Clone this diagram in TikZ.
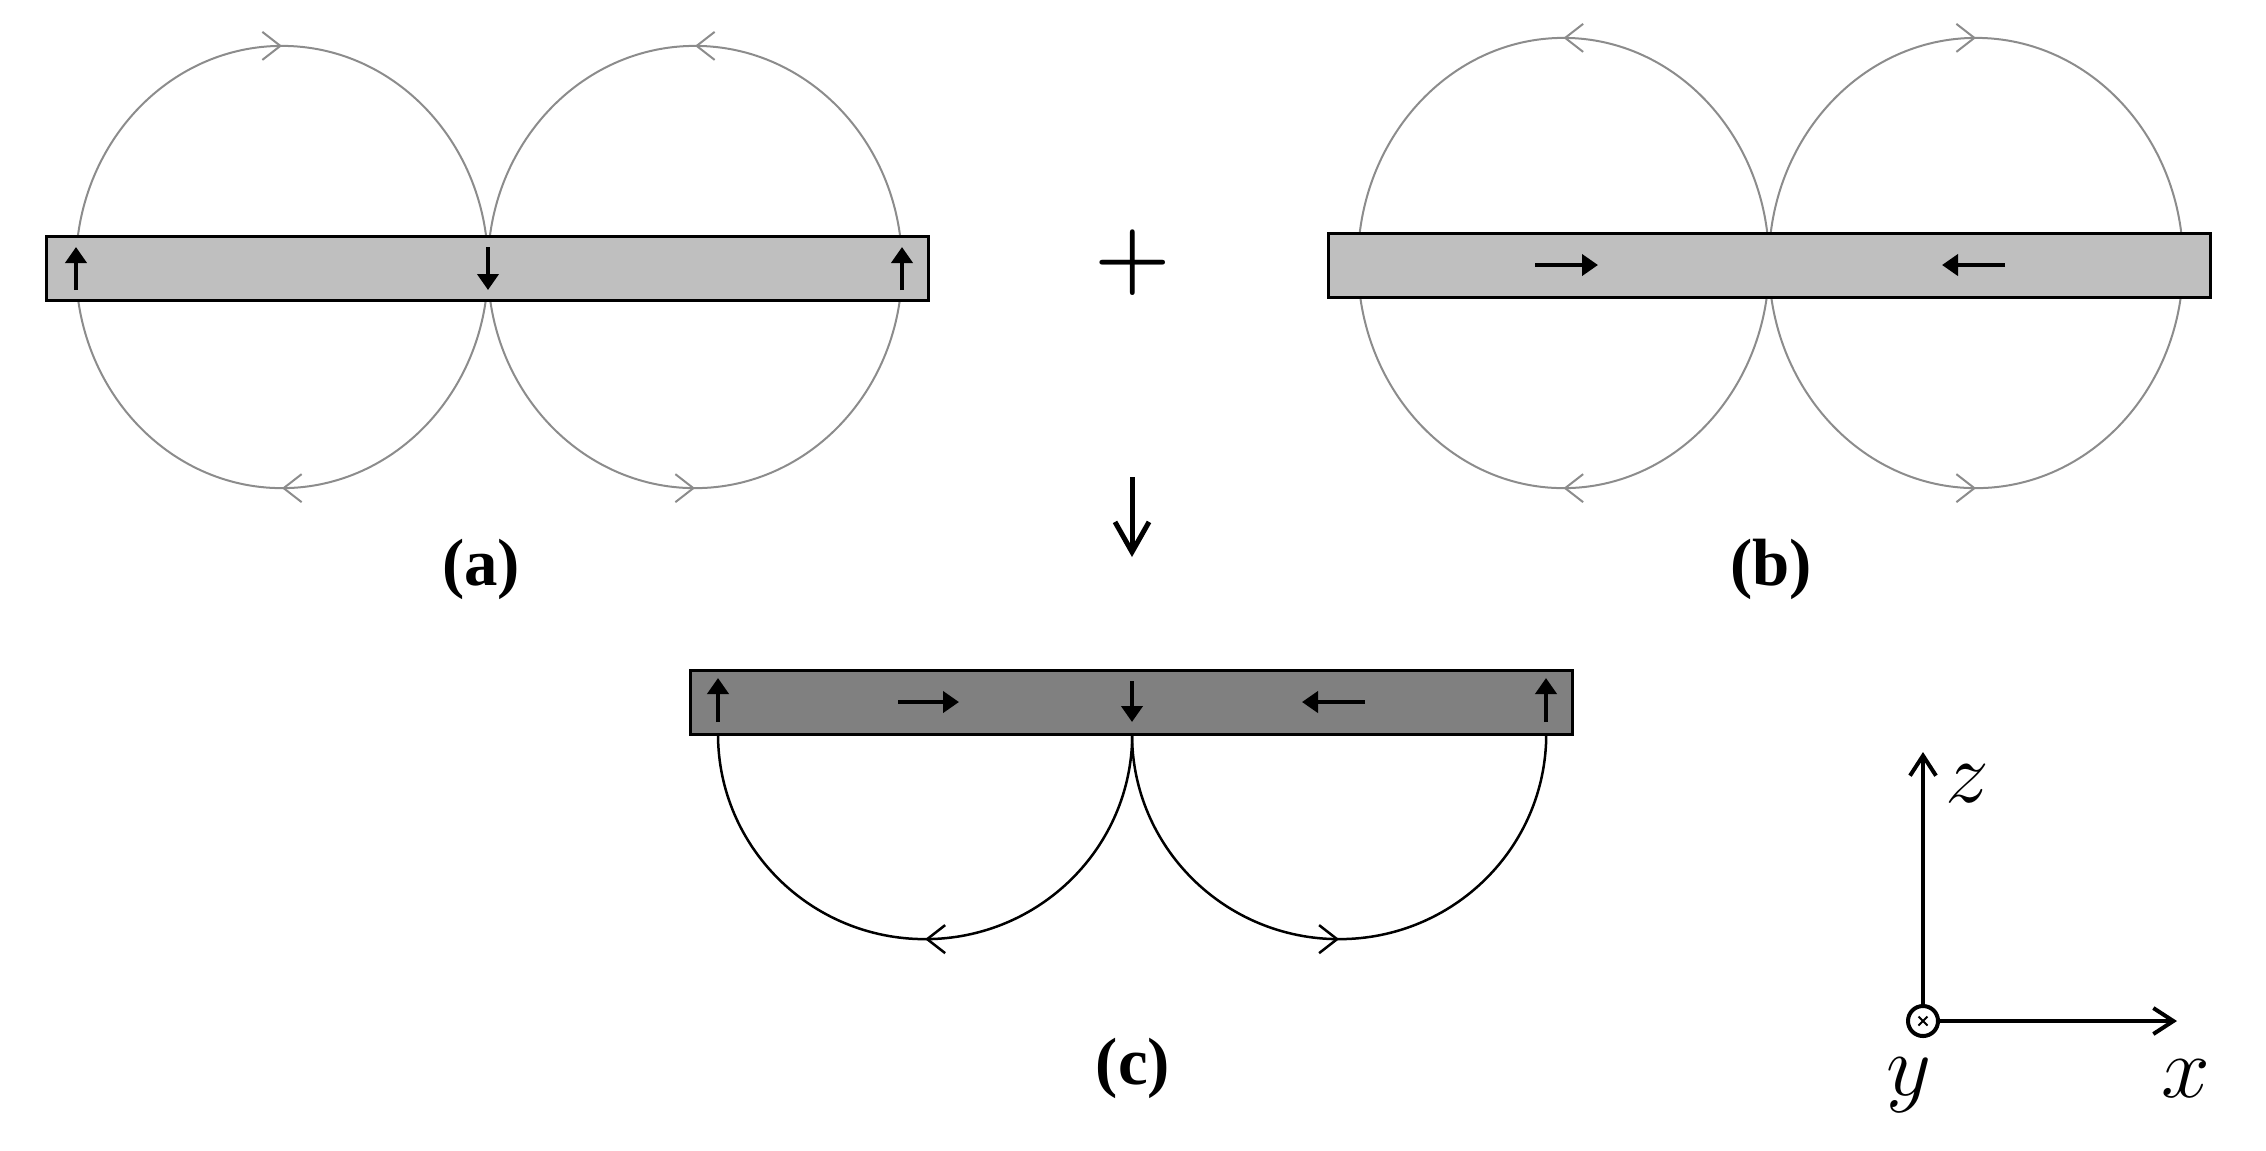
\documentclass[tikz,border=0pt]{standalone}
\usepackage{fontspec}
\newfontfamily\lblfont{Liberation Serif}
\usetikzlibrary{arrows.meta,decorations.markings}
\definecolor{fieldgray}{RGB}{140,140,140}
\definecolor{barlight}{RGB}{191,191,191}
\definecolor{bardark}{RGB}{128,128,128}
\tikzset{
  magbar/.style={draw=black, line width=0.03cm, rectangle, inner sep=0pt, minimum width=8.81cm, minimum height=0.64cm},
  magarrow/.style={line width=0.045cm, -{Triangle[length=0.16cm,width=0.21cm]}},
  fieldline/.style={draw=fieldgray, line width=0.02cm},
  fieldlineC/.style={draw=black, line width=0.025cm},
  fieldtip/.tip={Straight Barb[length=0.18cm,width=0.28cm,color=fieldgray]},
  fieldtipC/.tip={Straight Barb[length=0.18cm,width=0.28cm,color=black]},
  fieldmarks/.style 2 args={postaction={decorate},decoration={markings,mark=at position 0.25 with {#1},mark=at position 0.75 with {#2}}},
  midmark/.style={postaction={decorate},decoration={markings,mark=at position 0.5 with {#1}}},
  bigarrow/.style={line width=0.05cm, -{Straight Barb[length=0.3cm,width=0.34cm]}},
  axisarrow/.style={line width=0.04cm, -{Straight Barb[length=0.2cm,width=0.26cm]}},
  lbl/.style={font=\lblfont\bfseries\fontsize{19}{22}\selectfont, inner sep=0pt},
  axlbl/.style={font=\fontsize{23}{27}\selectfont, inner sep=0pt},
  plussign/.style={font=\fontsize{25}{30}\selectfont\boldmath, inner sep=0pt},
  originmark/.style={circle, draw, line width=0.04cm, minimum size=0.3cm, inner sep=0pt}
}
\begin{document}
\begin{tikzpicture}[x=0.01cm,y=-0.01cm]
\useasboundingbox (0,0) rectangle (2266,1150);

% ---------- (a) ----------
\draw[fieldline, fieldmarks={\arrowreversed{fieldtip}}{\arrowreversed{fieldtip}}] (282,267) ellipse [x radius=2.06cm, y radius=2.21cm];
\draw[fieldline, fieldmarks={\arrow{fieldtip}}{\arrow{fieldtip}}] (695,267) ellipse [x radius=2.07cm, y radius=2.21cm];
\node[magbar, fill=barlight] (barA) at (487.5,268.5) {};
\draw[magarrow] (76,290) -- (76,247);
\draw[magarrow] (488,247) -- (488,290);
\draw[magarrow] (902,290) -- (902,247);
\node[lbl] (labA) at (481,569) {(a)};

% ---------- plus ----------
\node[plussign] (plus) at (1133,263) {$+$};

% ---------- (b) ----------
\draw[fieldline, fieldmarks={\arrow{fieldtip}}{\arrowreversed{fieldtip}}] (1563.5,263) ellipse [x radius=2.055cm, y radius=2.25cm];
\draw[fieldline, fieldmarks={\arrowreversed{fieldtip}}{\arrow{fieldtip}}] (1976,263) ellipse [x radius=2.07cm, y radius=2.25cm];
\node[magbar, fill=barlight] (barB) at (1769.5,265) {};
\draw[magarrow] (1535,265) -- (1598,265);
\draw[magarrow] (2005,265) -- (1942,265);
\node[lbl] (labB) at (1771,569) {(b)};

% ---------- down arrow ----------
\coordinate (dtop) at (1132,477);
\coordinate (dbot) at (1132,557);
\draw[bigarrow] (dtop) -- (dbot);

% ---------- (c) ----------
\draw[fieldlineC, midmark={\arrowreversed{fieldtipC}}] (718,734) arc[start angle=180, end angle=360, x radius=2.07cm, y radius=2.05cm];
\draw[fieldlineC, midmark={\arrow{fieldtipC}}] (1132,734) arc[start angle=180, end angle=360, x radius=2.07cm, y radius=2.05cm];
\node[magbar, fill=bardark] (barC) at (1131.5,702) {};
\draw[magarrow] (718,722) -- (718,678);
\draw[magarrow] (898,702) -- (959,702);
\draw[magarrow] (1132,681) -- (1132,722);
\draw[magarrow] (1365,702) -- (1302,702);
\draw[magarrow] (1546,722) -- (1546,678);
\node[lbl] (labC) at (1133,1068) {(c)};

% ---------- axes ----------
\node[originmark] (O) at (1923,1021) {};
\draw[line width=0.02cm] (1918.5,1016.5) -- (1927.5,1025.5) (1918.5,1025.5) -- (1927.5,1016.5);
\coordinate (zend) at (1923,752);
\coordinate (xend) at (2177,1021);
\draw[axisarrow] (O) -- (zend);
\draw[axisarrow] (O) -- (xend);
\node[axlbl, anchor=base] (zl) at (1967,802) {$z$};
\node[axlbl, anchor=base] (yl) at (1909,1095) {$y$};
\node[axlbl, anchor=base] (xl) at (2186,1097) {$x$};
\end{tikzpicture}
\end{document}
